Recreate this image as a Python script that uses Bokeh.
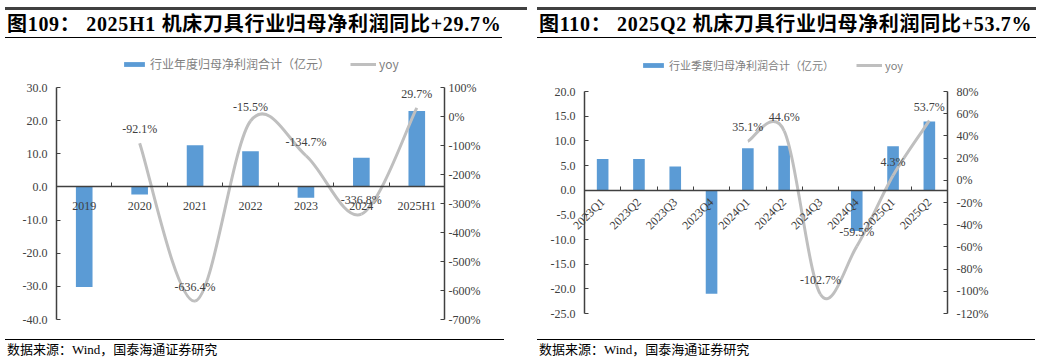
import math
from bokeh.plotting import figure
from bokeh.models import (Range1d, LinearAxis, FixedTicker, PrintfTickFormatter,
                          Legend, LegendItem, Div, ColumnDataSource)
from bokeh.layouts import row, column
from bokeh.embed import file_html
from bokeh.resources import INLINE
from bokeh.core.properties import value

# ---------------- data: left chart (annual) ----------------
years = ["2019", "2020", "2021", "2022", "2023", "2024", "2025H1"]
annual_profit = [-30.2, -2.3, 12.6, 10.8, -3.3, 8.8, 22.9]
annual_yoy = [None, -92.1, -636.4, -15.5, -134.7, -336.8, 29.7]
annual_left_ticks = [-40, -30, -20, -10, 0, 10, 20, 30]
annual_right_ticks = [-700, -600, -500, -400, -300, -200, -100, 0, 100]
annual_bar_label = "行业年度归母净利润合计（亿元）"
annual_title = "图109： 2025H1 机床刀具行业归母净利润同比+29.7%"

# ---------------- data: right chart (quarterly) ----------------
quarters = ["2023Q1", "2023Q2", "2023Q3", "2023Q4", "2024Q1",
            "2024Q2", "2024Q3", "2024Q4", "2025Q1", "2025Q2"]
quarter_profit = [6.3, 6.3, 4.8, -21.0, 8.5, 9.0, 0.0, -8.3, 8.9, 13.9]
quarter_yoy = [None, None, None, None, 35.1, 44.6, -102.7, -59.5, 4.3, 53.7]
quarter_left_ticks = [-25, -20, -15, -10, -5, 0, 5, 10, 15, 20]
quarter_right_ticks = [-120, -100, -80, -60, -40, -20, 0, 20, 40, 60, 80]
quarter_bar_label = "行业季度归母净利润合计（亿元）"
quarter_title = "图110： 2025Q2 机床刀具行业归母净利润同比+53.7%"

source_text = "数据来源：Wind，国泰海通证券研究"

BAR_COLOR = "#5B9BD5"
LINE_COLOR = "#BFBFBF"
AXIS_COLOR = "#404040"
SERIF = "Liberation Serif"
CJK = "Noto Sans CJK SC"


def smooth_segments(xs, ys):
    """Bezier control points (Catmull-Rom style, as in spreadsheet smoothed lines)."""
    n = len(xs)
    d = dict(x0=[], y0=[], x1=[], y1=[], cx0=[], cy0=[], cx1=[], cy1=[])
    for i in range(n - 1):
        ip = max(i - 1, 0)
        inx = min(i + 2, n - 1)
        d["x0"].append(xs[i]); d["y0"].append(ys[i])
        d["x1"].append(xs[i + 1]); d["y1"].append(ys[i + 1])
        d["cx0"].append(xs[i] + (xs[i + 1] - xs[ip]) / 6.0)
        d["cy0"].append(ys[i] + (ys[i + 1] - ys[ip]) / 6.0)
        d["cx1"].append(xs[i + 1] - (xs[inx] - xs[i]) / 6.0)
        d["cy1"].append(ys[i + 1] - (ys[inx] - ys[i]) / 6.0)
    return d


def make_chart(cats, bars, yoy, lticks, rticks, bar_label, width, height,
               borders, plot_w, plot_h, left_ext, top_ext, bot_ext, bar_width, rotate,
               legend_loc, legend_font, legend_spacing):
    """borders: pixel distances from figure edges to the value axes (left, right, top, bottom).
    The frame reaches beyond the value axes (left_ext / top_ext / bot_ext px) so that
    legend and edge labels are not clipped; the axes are limited with `bounds`."""
    n = len(cats)
    xs = list(range(n))
    bl, br, bt, bb = borders
    lmin, lmax = min(lticks), max(lticks)
    rmin, rmax = min(rticks), max(rticks)
    x_ext = left_ext * n / float(plot_w)
    lpx = (lmax - lmin) / float(plot_h)
    rpx = (rmax - rmin) / float(plot_h)
    p = figure(width=width, height=height, output_backend="svg", toolbar_location=None,
               x_range=Range1d(-0.5 - x_ext, n - 0.5),
               y_range=Range1d(lmin - bot_ext * lpx, lmax + top_ext * lpx),
               x_axis_location=None, y_axis_location=None,
               min_border_left=bl - left_ext, min_border_right=br,
               min_border_top=bt - top_ext, min_border_bottom=bb - bot_ext)
    p.extra_y_ranges = {"yoy": Range1d(rmin - bot_ext * rpx, rmax + top_ext * rpx)}
    p.outline_line_color = None
    p.background_fill_color = "white"
    p.border_fill_color = "white"
    p.grid.visible = False

    ya = LinearAxis(ticker=FixedTicker(ticks=lticks),
                    formatter=PrintfTickFormatter(format="%.1f"),
                    fixed_location=-0.5, bounds=(lmin, lmax))
    p.add_layout(ya, "left")
    ra = LinearAxis(y_range_name="yoy", ticker=FixedTicker(ticks=rticks),
                    formatter=PrintfTickFormatter(format="%d%%"), bounds=(rmin, rmax))
    p.add_layout(ra, "right")
    for ax in (ya, ra):
        ax.axis_line_color = AXIS_COLOR
        ax.axis_line_width = 1.5
        ax.major_tick_line_color = AXIS_COLOR
        ax.major_tick_in = 4
        ax.major_tick_out = 0
        ax.minor_tick_line_color = None
        ax.major_label_text_font = SERIF
        ax.major_label_text_font_size = "12px"
        ax.major_label_text_color = AXIS_COLOR
    ya.major_label_standoff = 9
    ra.major_label_standoff = 9 if rotate else 4

    src = ColumnDataSource(dict(x=xs, top=bars))
    vb = p.vbar(x="x", top="top", bottom=0, width=bar_width, source=src,
                fill_color=BAR_COLOR, line_color=None)

    bounds = [i + 0.5 for i in range(n - 1)]
    xline = LinearAxis(ticker=FixedTicker(ticks=bounds), fixed_location=0,
                       bounds=(-0.5, n - 0.5),
                       axis_line_color=AXIS_COLOR, axis_line_width=1.5,
                       major_tick_line_color=AXIS_COLOR, major_tick_in=4, major_tick_out=0,
                       minor_tick_line_color=None, major_label_text_color=None)
    p.add_layout(xline, "below")
    xl = LinearAxis(ticker=FixedTicker(ticks=xs), fixed_location=0,
                    major_label_overrides={i: c for i, c in zip(xs, cats)},
                    axis_line_color=None, major_tick_line_color=None,
                    minor_tick_line_color=None,
                    major_label_text_font=SERIF, major_label_text_font_size="12px",
                    major_label_text_color=AXIS_COLOR,
                    major_label_standoff=4 if rotate else 6)
    if rotate:
        xl.major_label_orientation = math.pi / 4
    p.add_layout(xl, "below")

    pts = [(x, v) for x, v in zip(xs, yoy) if v is not None]
    lx = [a for a, _ in pts]
    lyv = [b for _, b in pts]
    bz = p.bezier(source=ColumnDataSource(smooth_segments(lx, lyv)),
                  x0="x0", y0="y0", x1="x1", y1="y1",
                  cx0="cx0", cy0="cy0", cx1="cx1", cy1="cy1",
                  y_range_name="yoy", line_color=LINE_COLOR, line_width=3)
    lab = ColumnDataSource(dict(x=lx, y=lyv, t=["%.1f%%" % v for v in lyv]))
    p.text(x="x", y="y", text="t", source=lab, y_range_name="yoy",
           text_align="center", text_baseline="middle", y_offset=-14,
           text_font=value(SERIF), text_font_size="12px", text_color=AXIS_COLOR)

    legend = Legend(items=[LegendItem(label=bar_label, renderers=[vb]),
                           LegendItem(label="yoy", renderers=[bz])],
                    orientation="horizontal", location=legend_loc,
                    padding=0, margin=0, spacing=legend_spacing,
                    glyph_width=26, glyph_height=6, label_height=14,
                    label_standoff=3, label_text_font=CJK,
                    label_text_font_size=legend_font, label_text_color="#808080",
                    border_line_color=None, background_fill_alpha=0)
    p.add_layout(legend)
    return p


def title_div(text, width, inner_width):
    html = ('<div style="margin-top:2px;border-top:3px solid #404040;width:%dpx;">'
            '<div style="width:%dpx;height:28px;line-height:28px;border-bottom:1px solid #000;'
            'font-family:\'Liberation Serif\',\'Noto Sans CJK SC\';font-weight:bold;font-size:20px;'
            'letter-spacing:0.7px;color:#000;white-space:nowrap;padding-left:2px;box-sizing:border-box;">'
            '%s</div></div>') % (width, inner_width, text)
    return Div(text=html, width=width, height=36)


def source_div(width, line_width):
    html = ('<div style="margin-top:2px;width:%dpx;border-top:1px solid #000;padding-top:2px;'
            'font-family:\'Liberation Serif\',\'Noto Sans CJK SC\';font-size:13px;line-height:15px;'
            'color:#000;padding-left:2px;white-space:nowrap;">%s</div>') % (line_width, source_text)
    return Div(text=html, width=width, height=20)


# left chart: figure at page x 8, y 44 (286 tall); value axes at x 64 / 452, y 85 / 317
pL = make_chart(years, annual_profit, annual_yoy, annual_left_ticks, annual_right_ticks,
                annual_bar_label, 522, 286, (56, 78, 41, 13), 388, 232, 45, 39, 10,
                0.3, False, (65 + 45, 254 - 7 + 10), "12px", 20)
# right chart: figure at page x 530, y 44 (286 tall); value axes at x 582 / 945, y 89 / 311
pR = make_chart(quarters, quarter_profit, quarter_yoy, quarter_left_ticks, quarter_right_ticks,
                quarter_bar_label, 499, 286, (52, 84, 45, 19), 363, 222, 40, 43, 10,
                0.32, True, (56 + 40, 247 - 7 + 10), "11px", 22)

left = column(title_div(annual_title, 522, 497), pL, source_div(522, 499))
right = column(title_div(quarter_title, 499, 499), pR, source_div(499, 498))
layout = row(left, right)

open("out.html", "w").write(file_html(layout, INLINE))
